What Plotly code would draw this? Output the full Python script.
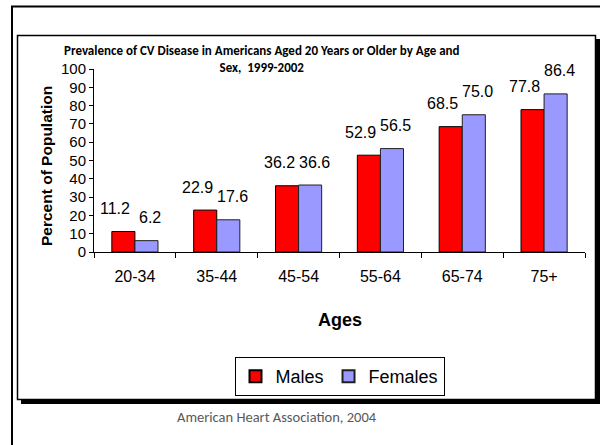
import plotly.graph_objects as go

# ---- data ----
categories = ["20-34", "35-44", "45-54", "55-64", "65-74", "75+"]
males = [11.2, 22.9, 36.2, 52.9, 68.5, 77.8]
females = [6.2, 17.6, 36.6, 56.5, 75.0, 86.4]
y_ticks = [0, 10, 20, 30, 40, 50, 60, 70, 80, 90, 100]

W, H = 600, 445
L, R, T, B = 94, 15, 69, 193
PW, PH = W - L - R, H - T - B


def px(x):
    return (x - L) / PW


def py(y):
    return (H - B - y) / PH


ARIAL = "Liberation Sans, Arial, sans-serif"
CAL = "Carlito, Calibri, Lato, sans-serif"

fig = go.Figure()
fig.add_trace(go.Bar(name="Males", x=categories, y=males,
                     marker=dict(color="#FF0000", line=dict(color="#000000", width=1))))
fig.add_trace(go.Bar(name="Females", x=categories, y=females,
                     marker=dict(color="#9999FF", line=dict(color="#202020", width=1))))

annotations = []
for cat, vm, vf in zip(categories, males, females):
    annotations.append(dict(x=cat, y=vm, xref="x", yref="y", text=f"{vm:.1f}",
                            showarrow=False, xshift=-11.5 - 8, yshift=23,
                            yanchor="middle", font=dict(family=ARIAL, size=16, color="black")))
    annotations.append(dict(x=cat, y=vf, xref="x", yref="y", text=f"{vf:.1f}",
                            showarrow=False, xshift=11.5 + 4, yshift=23,
                            yanchor="middle", font=dict(family=ARIAL, size=16, color="black")))

annotations += [
    dict(text="<b>Prevalence of CV Disease in Americans Aged 20 Years or Older by Age and<br>Sex,  1999-2002</b>",
         x=px(262), y=py(58.5), xref="paper", yref="paper", showarrow=False,
         xanchor="center", yanchor="middle", align="center",
         font=dict(family=CAL, size=13, color="black")),
    dict(text="<b>Percent of Population</b>", x=px(46), y=py(166), xref="paper", yref="paper",
         showarrow=False, textangle=-90, xanchor="center", yanchor="middle",
         font=dict(family=ARIAL, size=15.5, color="black")),
    dict(text="<b>Ages</b>", x=px(340), y=py(320), xref="paper", yref="paper",
         showarrow=False, xanchor="center", yanchor="middle",
         font=dict(family=ARIAL, size=18, color="black")),
    dict(text="American Heart Association, 2004", x=px(276.5), y=py(417), xref="paper", yref="paper",
         showarrow=False, xanchor="center", yanchor="middle",
         font=dict(family=CAL, size=14.5, color="#595959")),
]

shapes = [
    # outer slide frame
    dict(type="rect", xref="paper", yref="paper", x0=px(12), y0=py(6.5), x1=px(640), y1=py(480),
         line=dict(color="black", width=2), fillcolor="rgba(0,0,0,0)", layer="below"),
    # shadow of chart box
    dict(type="rect", xref="paper", yref="paper", x0=px(21), y0=py(39), x1=px(600), y1=py(404),
         line=dict(width=0), fillcolor="black", layer="below"),
    # chart box
    dict(type="rect", xref="paper", yref="paper", x0=px(17.5), y0=py(35.5), x1=px(595.5), y1=py(399.5),
         line=dict(color="black", width=1.5), fillcolor="white", layer="below"),
]

fig.update_layout(
    width=W, height=H,
    margin=dict(l=L, r=R, t=T, b=B, pad=0, autoexpand=False),
    paper_bgcolor="white", plot_bgcolor="rgba(0,0,0,0)",
    barmode="group", bargap=0.436, bargroupgap=0,
    showlegend=True,
    legend=dict(orientation="h", x=0.5, xanchor="center", y=py(357), yanchor="top",
                bgcolor="white", bordercolor="black", borderwidth=1,
                font=dict(family=ARIAL, size=18, color="black"),
                itemsizing="constant", traceorder="normal"),
    annotations=annotations,
    shapes=shapes,
)

fig.update_xaxes(showline=True, linecolor="black", linewidth=1,
                 ticks="outside", tickson="boundaries", ticklen=5, tickcolor="black",
                 tickfont=dict(family=ARIAL, size=16, color="black"),
                 ticklabelstandoff=10, showgrid=False, zeroline=False)
fig.update_yaxes(range=[0, 100], tickvals=y_ticks, showline=True, linecolor="black", linewidth=1,
                 ticks="outside", ticklen=4, tickcolor="black",
                 tickfont=dict(family=ARIAL, size=15, color="black"),
                 showgrid=False, zeroline=False)

fig.write_html("out.html", config={"displayModeBar": False},
               post_script="document.body.style.margin='0';document.body.style.padding='0';")
